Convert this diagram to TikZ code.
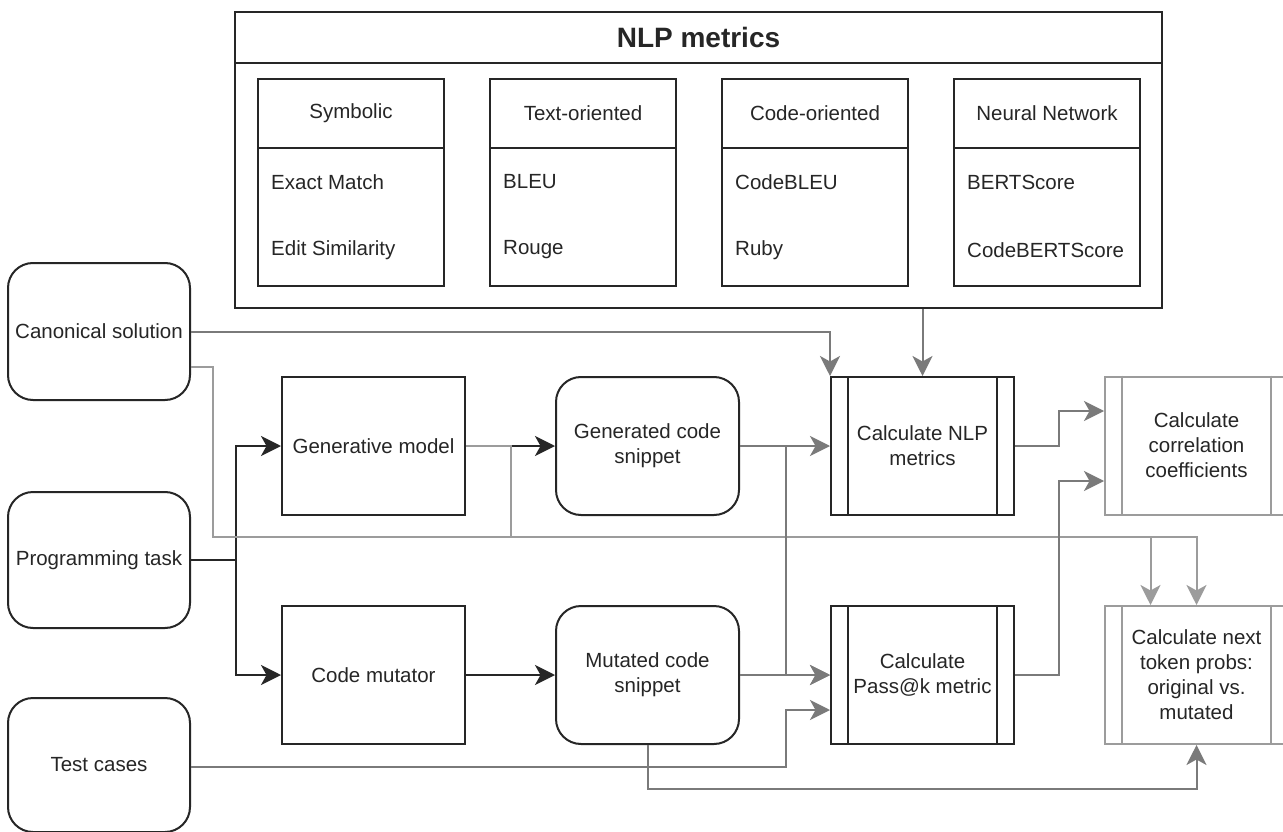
\documentclass[tikz,border=0pt]{standalone}
\usepackage{fontspec}
\setmainfont{Liberation Sans}
\usetikzlibrary{arrows.meta}
\definecolor{ink}{HTML}{262626}
\definecolor{wire}{HTML}{7A7A7A}
\definecolor{pale}{HTML}{9C9C9C}
\tikzset{
  every node/.style={font=\fontsize{20.5}{25}\selectfont, text=ink, inner sep=0pt},
  box/.style={draw=ink, line width=2pt, minimum width=183pt, minimum height=138pt, align=center},
  roundbox/.style={box, rounded corners=25pt},
  procbox/.style={box},
  paleproc/.style={box, draw=pale},
  catbox/.style={draw=ink, line width=2pt, minimum width=186pt, align=center},
  item/.style={anchor=west},
  tip/.style={-{Stealth[length=20pt,width=20pt,inset=5.5pt]}},
  blackwire/.style={draw=ink, line width=2pt, tip},
  graywire/.style={draw=wire, line width=2pt, tip},
  palewire/.style={draw=pale, line width=2pt, tip},
}
\newcommand{\sidebars}[2]{%
  \draw[#2, line width=2pt] ([xshift=18pt]#1.north west) -- ([xshift=18pt]#1.south west);
  \draw[#2, line width=2pt] ([xshift=-18pt]#1.north east) -- ([xshift=-18pt]#1.south east);}
\begin{document}
\begin{tikzpicture}[x=1pt, y=-1pt]
\clip (0,0) rectangle (1283,832);
\fill[white] (0,0) rectangle (1283,832);

% metrics container
\node[draw=ink, line width=2pt, minimum width=927pt, minimum height=51pt,
      font=\fontsize{28}{32}\selectfont\bfseries] (nlphead) at (698.5,37.5) {NLP metrics};
\node[draw=ink, line width=2pt, minimum width=927pt, minimum height=245pt] (nlp) at (698.5,185.5) {};

% metric families
\foreach \i/\L/\head/\a/\b in {1/258/Symbolic/Exact Match/Edit Similarity,
                                2/490/Text-oriented/BLEU/Rouge,
                                3/722/Code-oriented/CodeBLEU/Ruby,
                                4/954/Neural Network/BERTScore/CodeBERTScore}{
  \node[catbox, minimum height=69pt] (cat\i) at (\L+93,113.5) {\head};
  \node[catbox, minimum height=138pt] (catbody\i) at (\L+93,217) {};
  \node[item] (cata\i) at (\L+13,182) {\a};
  \node[item] (catb\i) at (\L+13,250) {\b};
}

% inputs
\node[roundbox, minimum width=182pt, minimum height=137pt] (canon) at (99,331.5) {Canonical solution};
\node[roundbox, minimum width=182pt, minimum height=136pt] (task) at (99,560) {Programming task};
\node[roundbox, minimum width=182pt, minimum height=134pt] (test) at (99,765) {Test cases};

% models and snippets
\node[box] (gen) at (373.5,446) {Generative model};
\node[box] (mut) at (373.5,675) {Code mutator};
\node[roundbox] (gsnip) at (647.5,446) {Generated code\\snippet};
\node[roundbox] (msnip) at (647.5,675) {Mutated code\\snippet};

% processing steps
\node[procbox] (nlpc) at (922.5,446) {Calculate NLP\\metrics};
\sidebars{nlpc}{ink}
\node[procbox] (pass) at (922.5,675) {Calculate\\Pass@k metric};
\sidebars{pass}{ink}
\node[paleproc] (corr) at (1196.5,445.5) {Calculate\\correlation\\coefficients};
\sidebars{corr}{pale}
\node[paleproc] (tok) at (1196.5,675) {Calculate next\\token probs:\\original vs.\\mutated};
\sidebars{tok}{pale}

% bend points
\coordinate (split) at (236,560);
\coordinate (canonbus) at (213,537);
\coordinate (genbus) at (511,537);
\coordinate (joinx) at (786,0);
\coordinate (corrx) at (1059,0);

% programming task feeds both models
\draw[blackwire] (task.east) -- (split) |- (gen.west);
\draw[blackwire] (split) |- (mut.west);
\draw[blackwire] (gen.east) -- (gsnip.west);
\draw[blackwire] (mut.east) -- (msnip.west);

% reference solution and metric definitions
\draw[graywire] (canon.east) -| (nlpc.north west);
\draw[graywire] (nlp.south -| nlpc.north) -- (nlpc.north);

% original code towards next-token probabilities
\draw[palewire] ([yshift=-35pt]canon.east) -| (canonbus) -| (tok.north);
\draw[palewire] (gen.east) -| (genbus) -| ([xshift=-46pt]tok.north);

% snippets into the metric steps
\draw[graywire] (gsnip.east) -- (nlpc.west);
\draw[graywire] (gsnip.east) -| (joinx |- pass.west) -- (pass.west);
\draw[graywire] (msnip.east) -- (pass.west);
\draw[graywire] ([yshift=-2pt]test.east) -| (joinx |- 0,710) -- ([yshift=-35pt]pass.west);
\draw[graywire] (msnip.south) |- (0,789 -| tok.south) -- (tok.south);

% results into correlation
\draw[graywire] (nlpc.east) -| (corrx |- 0,411) -- ([yshift=34.5pt]corr.west);
\draw[graywire] (pass.east) -| (corrx |- 0,481) -- ([yshift=-35.5pt]corr.west);
\end{tikzpicture}
\end{document}
